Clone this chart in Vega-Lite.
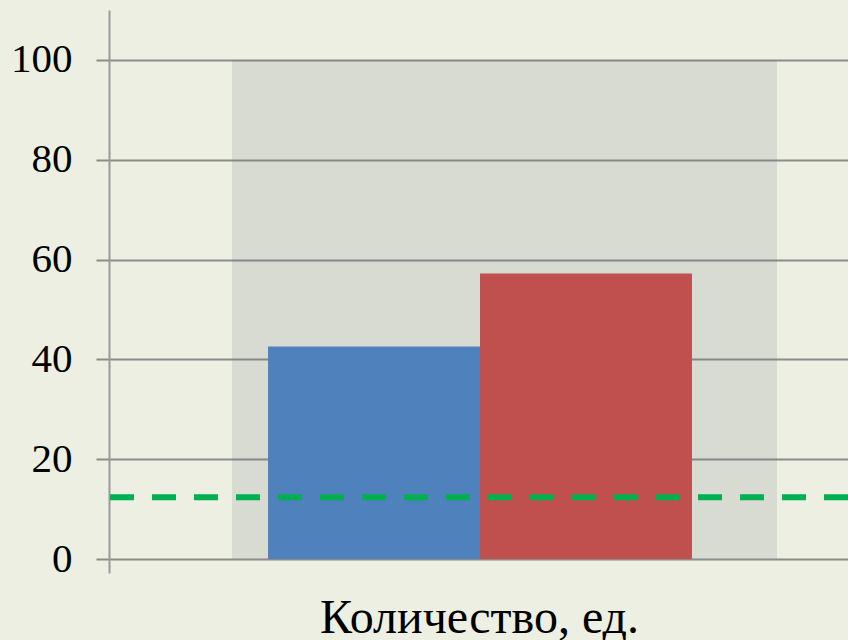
{
  "$schema": "https://vega.github.io/schema/vega-lite/v6.json",
  "width": 752,
  "height": 563,
  "autosize": "none",
  "padding": {"left": 96, "top": 10, "right": 0, "bottom": 67},
  "background": "#ECEFE1",
  "config": {"view": {"stroke": null}, "font": "'Liberation Serif', serif"},
  "datasets": {
    "band": [{"cat": "Количество, ед.", "top": 100}],
    "bars": [
      {"cat": "Количество, ед.", "series": "Ряд 1", "value": 42.6},
      {"cat": "Количество, ед.", "series": "Ряд 2", "value": 57.2}
    ],
    "ref": [{"value": 12.4}]
  },
  "layer": [
    {
      "data": {"name": "band"},
      "mark": {"type": "bar", "color": "#6D6A7D", "opacity": 0.15},
      "encoding": {
        "x": {
          "field": "cat", "type": "nominal",
          "scale": {"paddingInner": 0, "paddingOuter": 0.19, "align": 0.657},
          "axis": {
            "labels": false, "ticks": false, "domain": false, "grid": false,
            "title": "Количество, ед.", "titleFont": "'Liberation Serif', serif", "titleFontSize": 48,
            "titleFontWeight": "normal", "titleColor": "#000000",
            "titleX": 383, "titleY": 59, "titleBaseline": "alphabetic", "titleAlign": "center", "titleAnchor": null
          }
        },
        "y": {
          "field": "top", "type": "quantitative",
          "scale": {"domain": [-2.8, 110], "nice": false, "zero": false},
          "axis": {
            "values": [0, 20, 40, 60, 80, 100], "title": null,
            "grid": true, "gridColor": "#8C8C8C", "gridWidth": 2,
            "domain": true, "domainColor": "#9A9A9A", "domainWidth": 2,
            "ticks": false, "offset": -13, "labelPadding": 37,
            "labelFont": "'Liberation Serif', serif", "labelFontSize": 41, "labelColor": "#000000"
          }
        },
        "y2": {"datum": 0}
      }
    },
    {
      "data": {"name": "bars"},
      "mark": {"type": "bar"},
      "encoding": {
        "x": {"field": "cat", "type": "nominal"},
        "xOffset": {"field": "series", "type": "nominal", "scale": {"paddingInner": 0, "paddingOuter": 0.2854, "align": 0.2975}},
        "y": {"field": "value", "type": "quantitative"},
        "y2": {"datum": 0},
        "color": {"field": "series", "type": "nominal", "scale": {"domain": ["Ряд 1", "Ряд 2"], "range": ["#4F81BD", "#C0504D"]}, "legend": null}
      }
    },
    {
      "data": {"name": "ref"},
      "mark": {"type": "rule", "color": "#00B050", "strokeWidth": 6, "strokeDash": [24, 18]},
      "encoding": {"y": {"field": "value", "type": "quantitative"}}
    }
  ]
}
